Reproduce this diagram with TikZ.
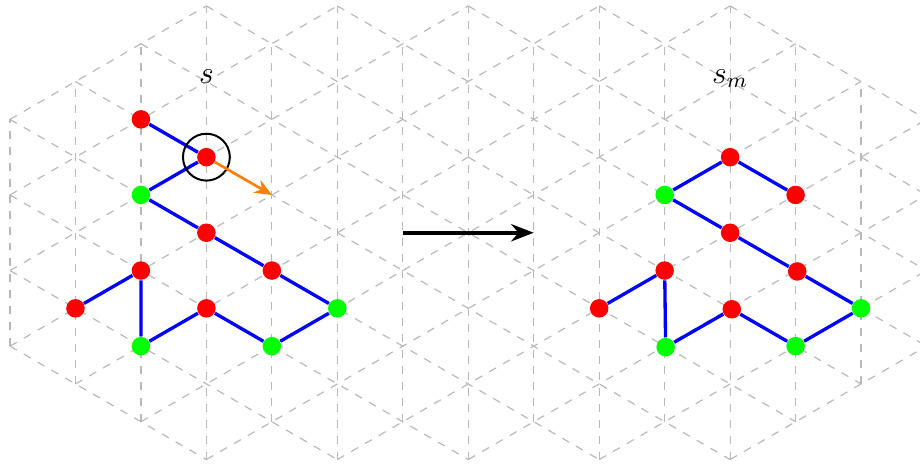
\documentclass[tikz,border=0pt]{standalone}
\usetikzlibrary{arrows.meta}
\begin{document}
\begin{tikzpicture}[x=0.8660254cm, y=1cm,
  gridline/.style={gray!55, dashed, line width=0.45pt},
  bond/.style={blue, line width=1.25pt},
  mono/.style={circle, inner sep=0pt, minimum size=0.245cm},
  hmono/.style={mono, fill=red},
  pmono/.style={mono, fill=green},
  lbl/.style={anchor=base, font=\large, inner sep=0pt},
]
\useasboundingbox (-0.1527,-3.058) rectangle (13.9,3.079);
\clip (-0.1527,-3.058) rectangle (13.9,3.079);

% triangular lattice: vertical lines (column / half height)
\foreach \c/\h in {0/1.5, 1/2, 2/2.5, 3/3, 4/2.5, 5/3, 6/2.5, 7/3, 8/2.5,
                   9/3, 10/2.5, 11/3, 12/2.5, 13/2, 14/1.5}
  \draw[gridline] (\c,-\h) -- (\c,\h);

% triangular lattice: the two slanted families (offset / first / last column)
\foreach \b/\s/\e in {3/0/3, 2/0/5, 1/0/7, 0/0/9, -1/1/11, -2/2/12, -3/3/13,
                      -4/5/14, -5/7/14, -6/9/14, -7/11/14} {
  \draw[gridline] (\s,{0.5*(\s-3)+\b}) -- (\e,{0.5*(\e-3)+\b});
  \draw[gridline] (\s,{-0.5*(\s-3)-\b}) -- (\e,{-0.5*(\e-3)-\b});
}

% conformation s
\node[hmono] (n1)  at (2, 1.5) {};
\node[hmono] (n2)  at (3, 1)   {};
\node[pmono] (n3)  at (2, 0.5) {};
\node[hmono] (n4)  at (3, 0)   {};
\node[hmono] (n5)  at (4,-0.5) {};
\node[pmono] (n6)  at (5,-1)   {};
\node[pmono] (n7)  at (4,-1.5) {};
\node[hmono] (n8)  at (3,-1)   {};
\node[pmono] (n9)  at (2,-1.5) {};
\node[hmono] (n10) at (2,-0.5) {};
\node[hmono] (n11) at (1,-1)   {};
\draw[bond] (n1) -- (n2) -- (n3) -- (n4) -- (n5) -- (n6) -- (n7) -- (n8)
            -- (n9) -- (n10) -- (n11);

% selected monomer and its move
\node[draw, circle, line width=0.75pt, minimum size=0.62cm, inner sep=0pt] (ring) at (n2) {};
\coordinate (target) at (4, 0.5);
\draw[orange, line width=1pt, -{Stealth[length=6.5pt, width=5.5pt]}] (n2) -- (target);

\node[lbl] (sL) at (3, 1.98) {$s$};

% transition arrow
\coordinate (a0) at (6, 0);
\coordinate (a1) at (8, 0);
\draw[line width=1.5pt, -{Stealth[length=8.5pt, width=6.5pt]}] (a0) -- (a1);

% conformation s_m
\node[hmono] (m1)  at (11, 1)   {};
\node[pmono] (m2)  at (10, 0.5) {};
\node[hmono] (m3)  at (12, 0.5) {};
\node[hmono] (m4)  at (11, 0)   {};
\node[hmono] (m5)  at (12.025,-0.512) {};
\node[pmono] (m6)  at (13,-1)   {};
\node[pmono] (m7)  at (12,-1.5) {};
\node[hmono] (m8)  at (11.025,-1.012) {};
\node[pmono] (m9)  at (10.015,-1.513) {};
\node[hmono] (m10) at (10,-0.5) {};
\node[hmono] (m11) at (9,-1)    {};
\draw[bond] (m3) -- (m1) -- (m2) -- (m4) -- (m5) -- (m6) -- (m7) -- (m8)
            -- (m9) -- (m10) -- (m11);

\node[lbl] (sR) at (11, 1.98) {$s_m$};
\end{tikzpicture}
\end{document}
